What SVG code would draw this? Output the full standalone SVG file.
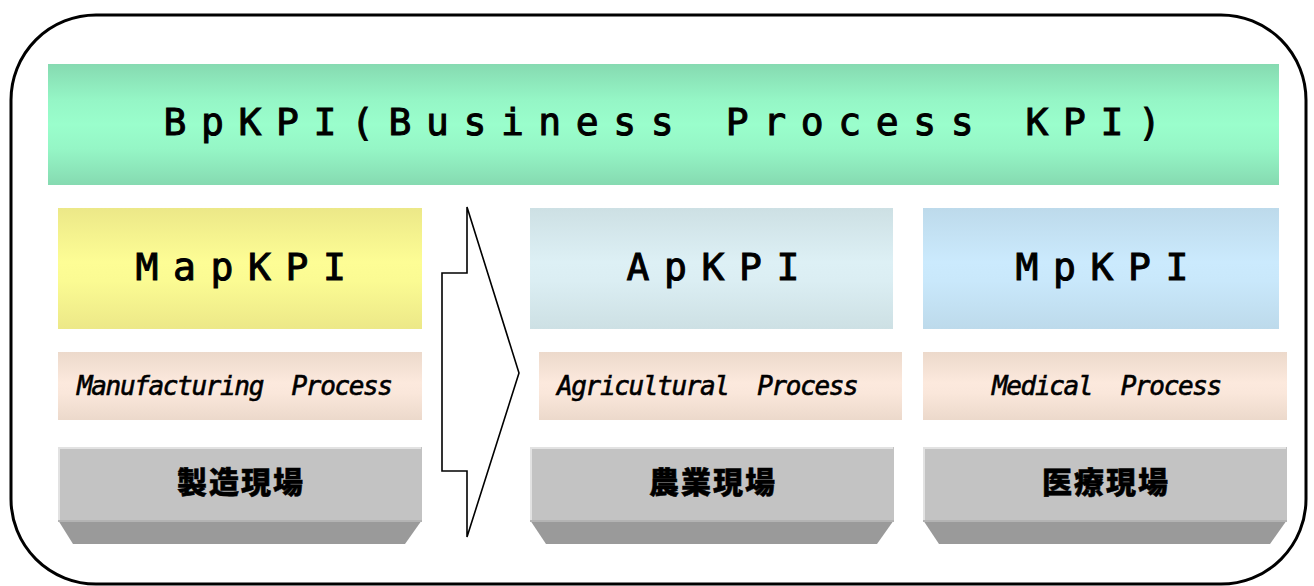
<svg xmlns="http://www.w3.org/2000/svg" width="1314" height="586" viewBox="0 0 1314 586">
<defs>
<linearGradient id="gGreen" x1="0" y1="0" x2="0" y2="1">
<stop offset="0" stop-color="#86dab1"/><stop offset="0.3" stop-color="#95f6c6"/><stop offset="0.5" stop-color="#9afecc"/><stop offset="0.7" stop-color="#95f6c6"/><stop offset="1" stop-color="#86dab1"/>
</linearGradient>
<linearGradient id="gYellow" x1="0" y1="0" x2="0" y2="1">
<stop offset="0" stop-color="#ece888"/><stop offset="0.45" stop-color="#fdfd95"/><stop offset="0.6" stop-color="#fbfb93"/><stop offset="1" stop-color="#ece888"/>
</linearGradient>
<linearGradient id="gAp" x1="0" y1="0" x2="0" y2="1">
<stop offset="0" stop-color="#cde0e4"/><stop offset="0.45" stop-color="#ddf0f5"/><stop offset="0.6" stop-color="#dbeef3"/><stop offset="1" stop-color="#cde0e4"/>
</linearGradient>
<linearGradient id="gMp" x1="0" y1="0" x2="0" y2="1">
<stop offset="0" stop-color="#bddaeb"/><stop offset="0.45" stop-color="#cbeafd"/><stop offset="0.6" stop-color="#c9e8fb"/><stop offset="1" stop-color="#bddaeb"/>
</linearGradient>
<linearGradient id="gPink" x1="0" y1="0" x2="0" y2="1">
<stop offset="0" stop-color="#ecd9cb"/><stop offset="0.45" stop-color="#fce9dd"/><stop offset="0.6" stop-color="#fae7db"/><stop offset="1" stop-color="#ecd9cb"/>
</linearGradient>
<style>
.kpi{font-family:"DejaVu Sans Mono","Liberation Mono",monospace;font-size:38px;letter-spacing:14.6px;fill:#000;stroke:#000;stroke-width:1px}
.proc{font-family:"DejaVu Sans Mono","Liberation Mono",monospace;font-style:italic;font-size:26px;letter-spacing:-1.35px;fill:#000;stroke:#000;stroke-width:0.6px;white-space:pre}
.site{font-family:"Noto Sans CJK JP","Noto Sans",sans-serif;font-weight:900;font-size:30px;letter-spacing:2px;fill:#000;stroke:#000;stroke-width:0.5px;text-anchor:middle}
.front{fill:#c3c3c3}
.bottom{fill:#9a9a9a}
.hl{stroke:#e2e2e2;stroke-width:2;fill:none}
.hl2{stroke:#b3b3b3;stroke-width:2;fill:none}
</style>
</defs>
<rect id="frame" x="11" y="15" width="1295" height="569" rx="85" ry="85" fill="#fff" stroke="#000" stroke-width="3"/>
<g id="bpkpi">
<rect x="48" y="64" width="1231" height="121" fill="url(#gGreen)"/>
<text class="kpi" x="163.6" y="135">BpKPI(Business Process KPI)</text>
</g>
<g id="mapkpi">
<rect x="58" y="208" width="364" height="121" fill="url(#gYellow)"/>
<text class="kpi" x="135.6" y="280">MapKPI</text>
</g>
<g id="apkpi">
<rect x="530" y="208" width="363" height="121" fill="url(#gAp)"/>
<text class="kpi" x="626.6" y="280">ApKPI</text>
</g>
<g id="mpkpi">
<rect x="923" y="208" width="356" height="121" fill="url(#gMp)"/>
<text class="kpi" x="1015.6" y="280">MpKPI</text>
</g>
<g id="manufacturing">
<rect x="58" y="352" width="364" height="68" fill="url(#gPink)"/>
<text class="proc" x="77" y="395" xml:space="preserve">Manufacturing  Process</text>
</g>
<g id="agricultural">
<rect x="539" y="352" width="363" height="68" fill="url(#gPink)"/>
<text class="proc" x="557" y="395" xml:space="preserve">Agricultural  Process</text>
</g>
<g id="medical">
<rect x="923" y="352" width="364" height="68" fill="url(#gPink)"/>
<text class="proc" x="992" y="395" xml:space="preserve">Medical  Process</text>
</g>
<g id="site-manufacturing">
<rect class="front" x="58" y="447" width="364" height="73"/>
<polygon class="bottom" points="58,520 422,520 405,544 73,544"/>
<polyline class="hl" points="59,520 59,448 421,448"/>
<line class="hl2" x1="58" y1="521" x2="422" y2="521"/>
<text class="site" x="241" y="493">製造現場</text>
</g>
<g id="site-agricultural">
<rect class="front" x="530" y="447" width="364" height="73"/>
<polygon class="bottom" points="530,520 894,520 877,544 546,544"/>
<polyline class="hl" points="531,520 531,448 893,448"/>
<line class="hl2" x1="530" y1="521" x2="894" y2="521"/>
<text class="site" x="713" y="493">農業現場</text>
</g>
<g id="site-medical">
<rect class="front" x="923" y="447" width="364" height="73"/>
<polygon class="bottom" points="923,520 1287,520 1270,544 939,544"/>
<polyline class="hl" points="924,520 924,448 1286,448"/>
<line class="hl2" x1="923" y1="521" x2="1287" y2="521"/>
<text class="site" x="1106" y="493">医療現場</text>
</g>
<g id="connectors">
<polygon points="442,273 467,273 467,207 519,373 467,537 467,471 442,471" fill="#fff" stroke="#000" stroke-width="1.6" stroke-linejoin="miter"/>
</g>
</svg>
